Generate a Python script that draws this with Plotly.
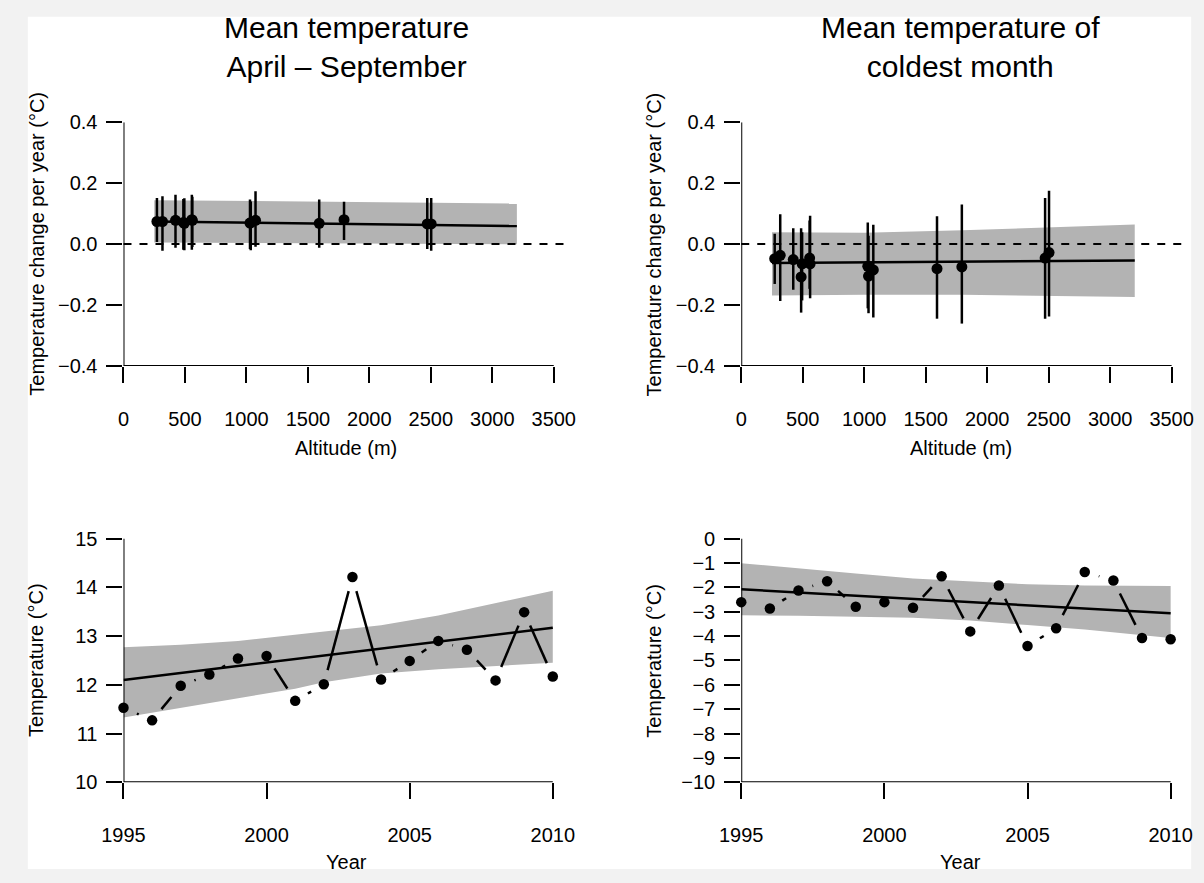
import math
import plotly.graph_objects as go

# ---------------- data ----------------
altitudes = [272, 317, 423, 487, 495, 556, 560, 1029, 1035, 1074, 1592, 1794, 2471, 2503]

summer_slope = [0.074, 0.074, 0.078, 0.071, 0.068, 0.080, 0.078, 0.069, 0.070, 0.078, 0.068, 0.080, 0.066, 0.066]
summer_lo = [0.007, -0.022, -0.012, -0.019, -0.020, -0.019, -0.010, -0.016, -0.020, -0.009, -0.012, 0.013, -0.016, -0.022]
summer_hi = [0.151, 0.157, 0.162, 0.148, 0.150, 0.162, 0.155, 0.146, 0.140, 0.173, 0.146, 0.139, 0.151, 0.151]

winter_slope = [-0.048, -0.037, -0.051, -0.108, -0.065, -0.046, -0.065, -0.073, -0.105, -0.085, -0.081, -0.075, -0.046, -0.028]
winter_lo = [-0.131, -0.187, -0.150, -0.225, -0.185, -0.147, -0.178, -0.211, -0.227, -0.241, -0.245, -0.261, -0.245, -0.238]
winter_hi = [0.034, 0.098, 0.052, 0.052, 0.039, 0.077, 0.093, 0.071, 0.027, 0.063, 0.091, 0.130, 0.151, 0.175]

fit_alt = [250, 3200]
summer_fit = [0.074, 0.059]
winter_fit = [-0.062, -0.054]

band_alt_s = [250, 1000, 2000, 3200]
summer_band_hi = [0.144, 0.141, 0.138, 0.133]
summer_band_lo = [0.005, 0.003, 0.001, -0.001]

band_alt_w = [250, 1000, 1800, 2500, 3200]
winter_band_hi = [0.039, 0.037, 0.045, 0.055, 0.064]
winter_band_lo = [-0.169, -0.166, -0.166, -0.170, -0.174]

years = list(range(1995, 2011))
summer_temp = [11.53, 11.27, 11.98, 12.21, 12.54, 12.59, 11.67, 12.01, 14.21, 12.11, 12.49, 12.90, 12.72, 12.09, 13.49, 12.17]
winter_temp = [-2.61, -2.87, -2.13, -1.75, -2.80, -2.61, -2.84, -1.55, -3.81, -1.93, -4.41, -3.68, -1.37, -1.72, -4.08, -4.13]

fit_years = [1995, 2010]
summer_year_fit = [12.10, 13.17]
winter_year_fit = [-2.08, -3.07]

band_years_s = [1995, 1997, 1999, 2001, 2002, 2004, 2006, 2008, 2010]
summer_yband_hi = [12.77, 12.82, 12.90, 13.03, 13.10, 13.22, 13.42, 13.67, 13.93]
summer_yband_lo = [11.33, 11.52, 11.72, 11.92, 12.05, 12.23, 12.32, 12.39, 12.45]

band_years_w = [1995, 1997, 1999, 2001, 2003, 2005, 2007, 2010]
winter_yband_hi = [-1.01, -1.24, -1.44, -1.64, -1.77, -1.88, -1.93, -1.95]
winter_yband_lo = [-3.15, -3.17, -3.20, -3.25, -3.36, -3.55, -3.73, -4.08]

alt_ticks = [0, 500, 1000, 1500, 2000, 2500, 3000, 3500]
slope_ticks = [-0.4, -0.2, 0.0, 0.2, 0.4]
slope_labels = ["\u22120.4", "\u22120.2", "0.0", "0.2", "0.4"]
year_ticks = [1995, 2000, 2005, 2010]
summer_ticks = [10, 11, 12, 13, 14, 15]
winter_ticks = [0, -1, -2, -3, -4, -5, -6, -7, -8, -9, -10]

titles = ["Mean temperature<br>April \u2013 September", "Mean temperature of<br>coldest month"]
slope_ylabel = "Temperature change per year (\u00b0C)"
alt_xlabel = "Altitude (m)"
year_xlabel = "Year"
temp_ylabel = "Temperature (\u00b0C)"

# ---------------- layout geometry (pixels) ----------------
W, H = 1204, 883
FONT = "Liberation Sans, Arial, Helvetica, sans-serif"
FS = 20
panels = {
    # name: (x0px, x1px, ytop_px, ybot_px, xrange, yrange)
    "tl": (104, 560, 114, 364, [0, 3620], [-0.4, 0.4]),
    "tr": (737, 1194, 114, 364, [0, 3627], [-0.4, 0.4]),
    "bl": (104, 560, 541, 791, [1995, 2010.55], [10, 15]),
    "br": (737, 1194, 541, 791, [1995, 2010.58], [-10, 0]),
}
axis_ids = {"tl": ("x", "y"), "tr": ("x2", "y2"), "bl": ("x3", "y3"), "br": ("x4", "y4")}


def scale(name):
    x0, x1, yt, yb, xr, yr = panels[name]
    return (x1 - x0) / (xr[1] - xr[0]), (yb - yt) / (yr[1] - yr[0])


def gapped(xs, ys, sx, sy, gap):
    X, Y = [], []
    for i in range(len(xs) - 1):
        ddx = xs[i + 1] - xs[i]
        ddy = ys[i + 1] - ys[i]
        L = math.hypot(ddx * sx, ddy * sy)
        if L <= 2 * gap:
            continue
        f = gap / L
        X += [xs[i] + ddx * f, xs[i + 1] - ddx * f, None]
        Y += [ys[i] + ddy * f, ys[i + 1] - ddy * f, None]
    return X, Y


fig = go.Figure()
GRAY = "#b3b3b3"


def band(name, xs, lo, hi):
    xa, ya = axis_ids[name]
    fig.add_trace(go.Scatter(x=xs + xs[::-1], y=hi + lo[::-1], fill="toself", fillcolor=GRAY,
                             line=dict(width=0), mode="lines", xaxis=xa, yaxis=ya,
                             hoverinfo="skip", showlegend=False))


def fitline(name, xs, ys):
    xa, ya = axis_ids[name]
    fig.add_trace(go.Scatter(x=xs, y=ys, mode="lines", line=dict(color="black", width=2.5),
                             xaxis=xa, yaxis=ya, showlegend=False))


# top panels
for name, xs_b, lo_b, hi_b, fit, vals, lo, hi in [
    ("tl", band_alt_s, summer_band_lo, summer_band_hi, summer_fit, summer_slope, summer_lo, summer_hi),
    ("tr", band_alt_w, winter_band_lo, winter_band_hi, winter_fit, winter_slope, winter_lo, winter_hi),
]:
    xa, ya = axis_ids[name]
    band(name, xs_b, lo_b, hi_b)
    fitline(name, fit_alt, fit)
    fig.add_trace(go.Scatter(
        x=altitudes, y=vals, mode="markers",
        marker=dict(color="black", size=11),
        error_y=dict(type="data", symmetric=False,
                     array=[h - v for h, v in zip(hi, vals)],
                     arrayminus=[v - l for v, l in zip(vals, lo)],
                     color="black", thickness=2.5, width=0),
        xaxis=xa, yaxis=ya, showlegend=False, cliponaxis=False))

# bottom panels
for name, xs_b, lo_b, hi_b, fit, temps in [
    ("bl", band_years_s, summer_yband_lo, summer_yband_hi, summer_year_fit, summer_temp),
    ("br", band_years_w, winter_yband_lo, winter_yband_hi, winter_year_fit, winter_temp),
]:
    xa, ya = axis_ids[name]
    band(name, xs_b, lo_b, hi_b)
    fitline(name, fit_years, fit)
    sx, sy = scale(name)
    gx, gy = gapped(years, temps, sx, sy, 15)
    fig.add_trace(go.Scatter(x=gx, y=gy, mode="lines", line=dict(color="black", width=2.5),
                             xaxis=xa, yaxis=ya, showlegend=False, connectgaps=False))
    fig.add_trace(go.Scatter(x=years, y=temps, mode="markers", marker=dict(color="black", size=10.5),
                             xaxis=xa, yaxis=ya, showlegend=False, cliponaxis=False))

# axes
layout = dict(
    width=W, height=H, margin=dict(l=0, r=0, t=0, b=0),
    paper_bgcolor="#f2f2f2", plot_bgcolor="rgba(0,0,0,0)",
    font=dict(family=FONT, size=FS, color="black"), showlegend=False,
)
tick_sets = {
    "tl": (alt_ticks, [str(v) for v in alt_ticks], slope_ticks, slope_labels),
    "tr": (alt_ticks, [str(v) for v in alt_ticks], slope_ticks, slope_labels),
    "bl": (year_ticks, [str(v) for v in year_ticks], summer_ticks, [str(v) for v in summer_ticks]),
    "br": (year_ticks, [str(v) for v in year_ticks], winter_ticks,
           [("\u2212" + str(-v)) if v < 0 else str(v) for v in winter_ticks]),
}
shapes = [dict(type="rect", xref="paper", yref="paper", x0=6 / W, x1=1198 / W,
               y0=1 - 880 / H, y1=1 - 6 / H, fillcolor="white", line=dict(width=0), layer="below")]
for name, (x0, x1, yt, yb, xr, yr) in panels.items():
    xa, ya = axis_ids[name]
    xk = "xaxis" + xa[1:]
    yk = "yaxis" + ya[1:]
    xtv, xtt, ytv, ytt = tick_sets[name]
    common = dict(showgrid=False, zeroline=False, showline=False, ticks="outside", ticklen=16,
                  tickwidth=2, tickcolor="black", tickfont=dict(size=FS, color="black", family=FONT),
                  fixedrange=True, tickmode="array")
    layout[xk] = dict(common, domain=[x0 / W, x1 / W], range=xr, anchor=ya,
                      tickvals=xtv, ticktext=xtt, ticklabelstandoff=19)
    layout[yk] = dict(common, domain=[1 - yb / H, 1 - yt / H], range=yr, anchor=xa,
                      tickvals=ytv, ticktext=ytt, ticklabelstandoff=5)
    # R-style axis lines spanning first to last tick
    shapes.append(dict(type="line", xref=xa, yref=ya, x0=min(xtv), x1=max(xtv), y0=yr[0], y1=yr[0],
                       line=dict(color="black", width=2), layer="above"))
    shapes.append(dict(type="line", xref=xa, yref=ya, x0=xr[0], x1=xr[0], y0=min(ytv), y1=max(ytv),
                       line=dict(color="black", width=2), layer="above"))
    if name in ("tl", "tr"):
        shapes.append(dict(type="line", xref=xa + " domain", yref=ya, x0=0, x1=1, y0=0, y1=0,
                           line=dict(color="black", width=2, dash="8px,8px"), layer="above"))

annotations = []
for cx, t in zip([332, 962], titles):
    annotations.append(dict(text=t, xref="paper", yref="paper", x=cx / W, y=1 - 37 / H,
                            xanchor="center", yanchor="middle", showarrow=False,
                            font=dict(size=30, family=FONT, color="black")))
for cx in [332, 962]:
    annotations.append(dict(text=alt_xlabel, xref="paper", yref="paper", x=cx / W, y=1 - 448 / H,
                            xanchor="center", yanchor="middle", showarrow=False))
    annotations.append(dict(text=year_xlabel, xref="paper", yref="paper", x=cx / W, y=1 - 873 / H,
                            xanchor="center", yanchor="middle", showarrow=False))
for lx in [15, 648]:
    annotations.append(dict(text=slope_ylabel, xref="paper", yref="paper", x=lx / W, y=1 - 239 / H,
                            xanchor="center", yanchor="middle", textangle=-90, showarrow=False))
    annotations.append(dict(text=temp_ylabel, xref="paper", yref="paper", x=lx / W, y=1 - 666 / H,
                            xanchor="center", yanchor="middle", textangle=-90, showarrow=False))

layout["shapes"] = shapes
layout["annotations"] = annotations
fig.update_layout(**layout)
fig.write_html("out.html")
